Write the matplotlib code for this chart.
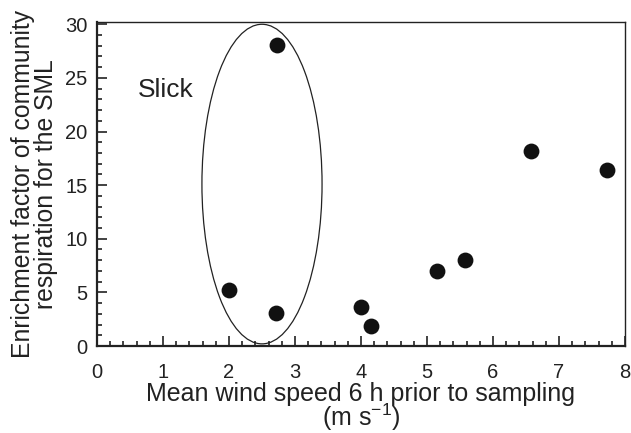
import matplotlib.pyplot as plt
from matplotlib.patches import Ellipse
from matplotlib.ticker import MultipleLocator

plt.rcParams["font.family"] = ["Liberation Sans", "DejaVu Sans"]
plt.rcParams["mathtext.fontset"] = "custom"
plt.rcParams["mathtext.rm"] = "Liberation Sans"
plt.rcParams["mathtext.it"] = "Liberation Sans:italic"

# wind speed (m s-1) vs enrichment factor
wind = [2.72, 2.00, 2.71, 4.00, 4.15, 5.15, 5.57, 6.57, 7.72]
enrichment = [28.1, 5.2, 3.1, 3.6, 1.9, 7.0, 8.0, 18.2, 16.4]

# slick group outline
slick_center = (2.5, 15.1)
slick_width = 1.82
slick_height = 29.8

fig = plt.figure(figsize=(6.31, 4.33), dpi=100)
ax = fig.add_axes([0.1537, 0.2009, 0.8368, 0.748])

ax.scatter(wind, enrichment, s=130, color="#111111", zorder=3, linewidths=0)
ax.add_patch(Ellipse(slick_center, slick_width, slick_height, fill=False,
                     edgecolor="#222222", linewidth=0.9))
ax.text(0.62, 23.9, "Slick", fontsize=19, va="center", ha="left", color="#222222")

ax.set_xlim(0, 8)
ax.set_ylim(0, 30.2)
ax.xaxis.set_major_locator(MultipleLocator(1))
ax.xaxis.set_minor_locator(MultipleLocator(0.2))
ax.yaxis.set_major_locator(MultipleLocator(5))
ax.yaxis.set_minor_locator(MultipleLocator(1))
ax.tick_params(which="both", direction="in", top=False, right=False,
               color="#222222", width=1.2)
ax.tick_params(which="major", length=7)
ax.tick_params(which="minor", length=3.5)
ax.tick_params(axis="x", which="major", pad=12, labelsize=14.5, labelcolor="#222222")
ax.tick_params(axis="y", which="major", pad=7, labelsize=14.5, labelcolor="#222222")

for side in ["left", "bottom"]:
    ax.spines[side].set_linewidth(1.6)
for side in ["top", "right"]:
    ax.spines[side].set_linewidth(1.0)
for sp in ax.spines.values():
    sp.set_color("#222222")

ax.set_xlabel("Mean wind speed 6 h prior to sampling\n(m s$^{-1}$)",
              fontsize=18, color="#222222", linespacing=0.85, labelpad=0)
ax.set_ylabel("Enrichment factor of community\nrespiration for the SML",
              fontsize=17.8, color="#222222", linespacing=0.95, labelpad=5)

fig.savefig("out.png", dpi=100)
